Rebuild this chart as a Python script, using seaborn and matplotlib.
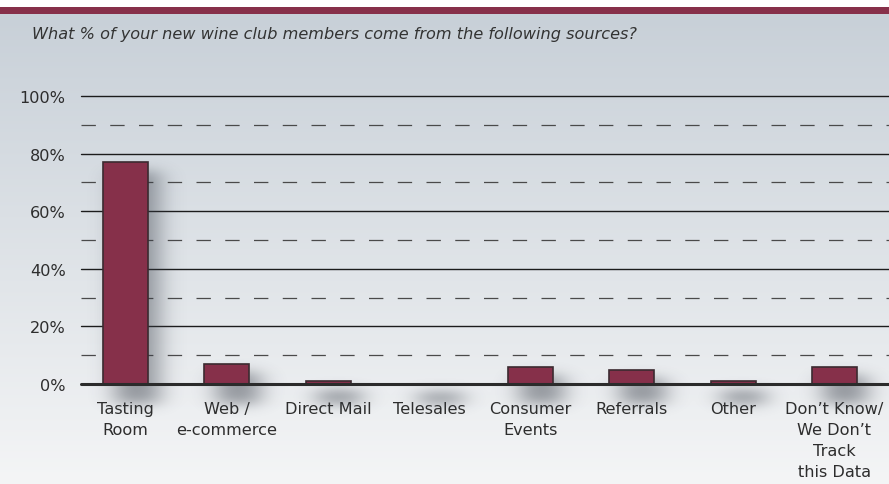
import numpy as np
import pandas as pd
import matplotlib
matplotlib.use("Agg")
import matplotlib.pyplot as plt
import seaborn as sns

# --- data -------------------------------------------------------------
categories = [
    "Tasting\nRoom",
    "Web /\ne-commerce",
    "Direct Mail",
    "Telesales",
    "Consumer\nEvents",
    "Referrals",
    "Other",
    "Don\u2019t Know/\nWe Don\u2019t\nTrack\nthis Data",
]
values = [77, 7, 1, 0, 6, 5, 1, 6]
y_ticks = [0, 20, 40, 60, 80, 100]
y_tick_labels = ["0%", "20%", "40%", "60%", "80%", "100%"]
minor_lines = [10, 30, 50, 70, 90]
subtitle = "What % of your new wine club members come from the following sources?"

df = pd.DataFrame({"source": categories, "share": values})

# --- style ------------------------------------------------------------
sns.set_theme(style="white")
plt.rcParams["font.family"] = ["DejaVu Sans"]

MAROON = "#86304a"
EDGE = "#3b2a30"
TEXT = "#2d2d2d"

W, H, DPI = 889, 485, 100
fig = plt.figure(figsize=(W / DPI, H / DPI), dpi=DPI)

# page background: white strip, maroon band, soft vertical gradient
bg = fig.add_axes([0, 0, 1, 1], zorder=-10)
bg.set_axis_off()
bg.set_xlim(0, W)
bg.set_ylim(H, 0)
top_c = np.array(matplotlib.colors.to_rgb("#c8d0d8"))
bot_c = np.array(matplotlib.colors.to_rgb("#f4f5f6"))
t = np.linspace(0, 1, 256)[:, None, None]
grad = top_c * (1 - t) + bot_c * t
bg.imshow(grad, extent=[0, W, H, 15], aspect="auto", interpolation="bicubic")
bg.add_patch(plt.Rectangle((0, 0), W, 7.5, color="white", lw=0))
bg.add_patch(plt.Rectangle((0, 7.5), W, 7.5, color="#87304a", lw=0))
bg.text(32, 35, subtitle, fontsize=11.6, style="italic", color="#333333",
        va="center", ha="left")

# plot area
ax_left, ax_right = 81 / W, 1.0
ax_bottom, ax_top = (H - 385) / H, (H - 97) / H
ax = fig.add_axes([ax_left, ax_bottom, ax_right - ax_left, ax_top - ax_bottom])
ax.set_facecolor("none")

XMIN, XMAX, YMIN, YMAX = -0.44, 7.54, 0, 100
bar_w = 0.444

# grid lines
for yv in y_ticks[1:]:
    ax.axhline(yv, color="#1c1c1c", lw=1.0, zorder=0.5, clip_on=False)
for yv in minor_lines:
    ax.axhline(yv, color="#4a4a4a", lw=0.9, ls=(0, (11.5, 11.5)),
               zorder=0.5, clip_on=False)

sns.barplot(data=df, x="source", y="share", ax=ax, color=MAROON,
            width=bar_w, edgecolor=EDGE, linewidth=1.2, saturation=1,
            zorder=3)

ax.axhline(0, color="#2b2b2b", lw=2.2, zorder=4, clip_on=False)

# soft blurred drop shadow built from the drawn bar rectangles
sh_y0, sh_y1 = -18, 100
nx, ny = 820, 340
gx = np.linspace(XMIN, XMAX, nx)
gy = np.linspace(sh_y0, sh_y1, ny)
mask = np.zeros((ny, nx))
for p in ax.patches:
    x0 = p.get_x() + 0.12
    x1 = x0 + p.get_width() - 0.02
    top = p.get_height() - 3.0
    bot = -7.0
    mx = (gx >= x0) & (gx <= x1)
    my = (gy >= bot) & (gy <= max(top, bot + 3.0))
    mask[np.ix_(my, mx)] = 1.0


def gauss_blur(a, sig_x, sig_y):
    kx = np.exp(-0.5 * (np.arange(-3 * sig_x, 3 * sig_x + 1) / sig_x) ** 2)
    ky = np.exp(-0.5 * (np.arange(-3 * sig_y, 3 * sig_y + 1) / sig_y) ** 2)
    kx /= kx.sum()
    ky /= ky.sum()
    a = np.apply_along_axis(lambda r: np.convolve(r, kx, mode="same"), 1, a)
    a = np.apply_along_axis(lambda c: np.convolve(c, ky, mode="same"), 0, a)
    return a


blur = gauss_blur(mask, 12, 6)
shadow = np.zeros((ny, nx, 4))
shadow[..., :3] = matplotlib.colors.to_rgb("#3a404a")
shadow[..., 3] = 0.5 * blur
ax.imshow(shadow, extent=[XMIN, XMAX, sh_y0, sh_y1], origin="lower",
          aspect="auto", interpolation="bilinear", zorder=1, clip_on=False)

ax.set_xlim(XMIN, XMAX)
ax.set_ylim(YMIN, YMAX)
ax.set_yticks(y_ticks)
ax.set_yticklabels(y_tick_labels)
ax.set_xlabel("")
ax.set_ylabel("")
ax.tick_params(axis="y", length=0, pad=11, labelsize=11.6, labelcolor=TEXT)
ax.tick_params(axis="x", length=0, pad=12, labelsize=11.6, labelcolor=TEXT)
for lab in ax.get_xticklabels():
    lab.set_linespacing(1.5)
for s in ax.spines.values():
    s.set_visible(False)

fig.savefig("out.png", dpi=DPI)
